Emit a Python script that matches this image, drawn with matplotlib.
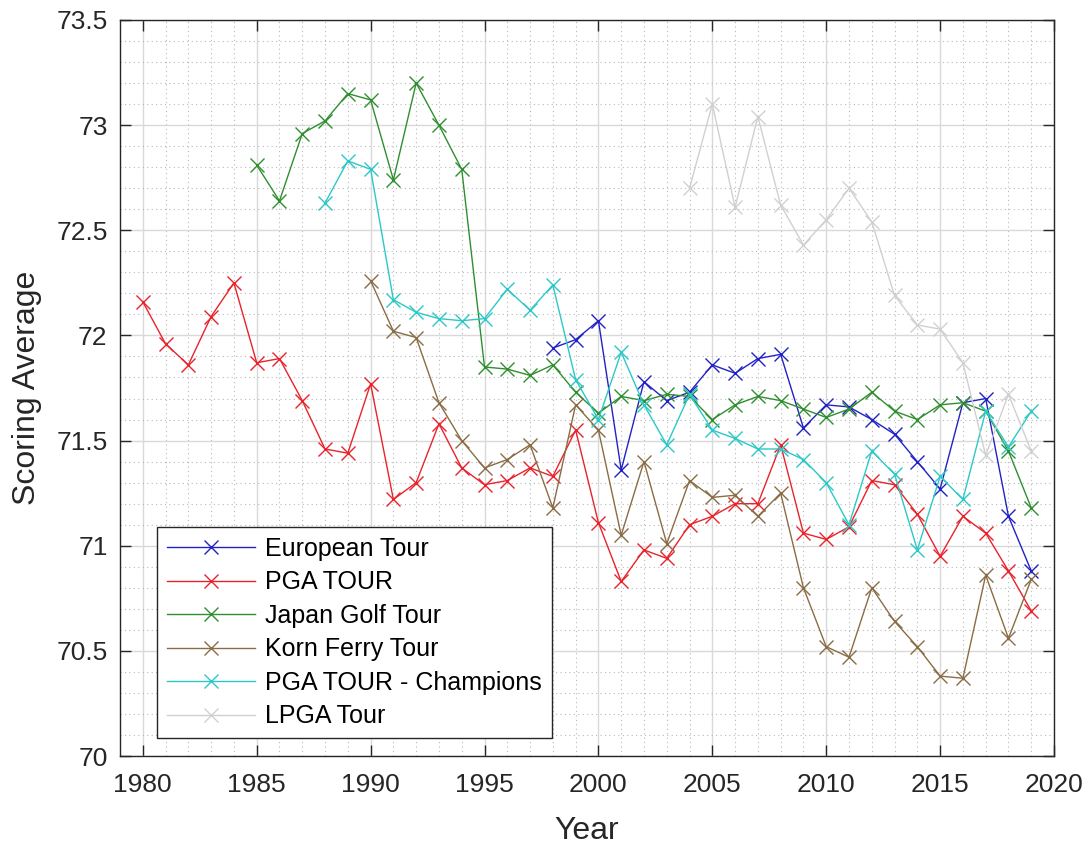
import numpy as np
import matplotlib
matplotlib.use('Agg')
import matplotlib.pyplot as plt
from matplotlib.ticker import MultipleLocator

plt.rcParams['font.family'] = ['Liberation Sans', 'DejaVu Sans']

# %% Datos (promedio de golpes por año)
years_euro = list(range(1998, 2020))
euro = [71.94, 71.98, 72.07, 71.36, 71.78, 71.69, 71.73, 71.86, 71.82, 71.89, 71.91,
        71.56, 71.67, 71.66, 71.60, 71.53, 71.40, 71.27, 71.68, 71.70, 71.14, 70.88]

years_pga = list(range(1980, 2020))
pga = [72.16, 71.96, 71.86, 72.09, 72.25, 71.87, 71.89, 71.69, 71.46, 71.44,
       71.77, 71.22, 71.30, 71.58, 71.37, 71.29, 71.31, 71.37, 71.33, 71.55,
       71.11, 70.83, 70.98, 70.94, 71.10, 71.14, 71.20, 71.20, 71.48, 71.06,
       71.03, 71.09, 71.31, 71.29, 71.15, 70.95, 71.14, 71.06, 70.88, 70.69]

years_japan = list(range(1985, 2020))
japan = [72.81, 72.64, 72.96, 73.02, 73.15, 73.12, 72.74, 73.20, 73.00, 72.79,
         71.85, 71.84, 71.81, 71.86, 71.73, 71.63, 71.71, 71.69, 71.72, 71.71,
         71.60, 71.67, 71.71, 71.69, 71.65, 71.61, 71.65, 71.73, 71.64, 71.60,
         71.67, 71.68, 71.64, 71.45, 71.18]

years_korn = list(range(1990, 2020))
korn = [72.26, 72.02, 71.99, 71.68, 71.50, 71.37, 71.41, 71.48, 71.18, 71.67,
        71.55, 71.05, 71.40, 71.01, 71.31, 71.23, 71.24, 71.14, 71.25, 70.80,
        70.52, 70.47, 70.80, 70.64, 70.52, 70.38, 70.37, 70.86, 70.56, 70.84]

years_champ = list(range(1988, 2020))
champ = [72.63, 72.83, 72.79, 72.17, 72.11, 72.08, 72.07, 72.08, 72.22, 72.12,
         72.24, 71.79, 71.60, 71.92, 71.67, 71.48, 71.72, 71.55, 71.51, 71.46,
         71.46, 71.41, 71.30, 71.10, 71.45, 71.34, 70.98, 71.33, 71.22, 71.64,
         71.47, 71.64]

years_lpga = list(range(2004, 2020))
lpga = [72.70, 73.10, 72.61, 73.04, 72.62, 72.43, 72.55, 72.70, 72.54, 72.19,
        72.05, 72.03, 71.87, 71.43, 71.72, 71.45]

series = [
    (years_euro, euro, 'European Tour', '#2222c4'),
    (years_pga, pga, 'PGA TOUR', '#e8232b'),
    (years_japan, japan, 'Japan Golf Tour', '#2f8f2f'),
    (years_korn, korn, 'Korn Ferry Tour', '#8a6c45'),
    (years_champ, champ, 'PGA TOUR - Champions', '#2cc8c8'),
    (years_lpga, lpga, 'LPGA Tour', '#d0d0d0'),
]

# %% Grafica
fig = plt.figure(figsize=(10.9, 8.47), dpi=100)
ax = fig.add_axes([0.1101, 0.1074, 0.8569, 0.869])

for x, y, nombre, color in series:
    ax.plot(x, y, color=color, marker='x', markersize=10, linewidth=1.0,
            markeredgewidth=1.0, label=nombre)

ax.set_xlim(1979, 2020)
ax.set_ylim(70, 73.5)
ax.xaxis.set_major_locator(MultipleLocator(5))
ax.xaxis.set_minor_locator(MultipleLocator(1))
ax.yaxis.set_major_locator(MultipleLocator(0.5))
ax.yaxis.set_minor_locator(MultipleLocator(0.1))
ax.set_yticks(np.arange(70, 73.51, 0.5))
ax.set_yticklabels(['70', '70.5', '71', '71.5', '72', '72.5', '73', '73.5'])

ax.grid(True, which='major', color='#d9d9d9', linewidth=1.0, linestyle='-')
ax.grid(True, which='minor', color='#b8b8b8', linewidth=0.8, linestyle=(0, (1, 3)))
ax.set_axisbelow(True)

ax.tick_params(which='both', direction='in', top=True, right=True,
               colors='#262626', labelsize=19)
ax.tick_params(which='major', length=8, width=1.0)
ax.tick_params(which='minor', length=0)
ax.tick_params(axis='x', pad=12)
ax.tick_params(axis='y', pad=9)
for s in ax.spines.values():
    s.set_color('#262626')
    s.set_linewidth(1.0)

ax.set_xlabel('Year', fontsize=23, color='#262626', labelpad=14)
ax.set_ylabel('Scoring Average', fontsize=23, color='#262626', labelpad=10)

leg = ax.legend(loc='lower left', bbox_to_anchor=(0.040, 0.024), borderaxespad=0,
                fontsize=18, handlelength=3.5, labelspacing=0.38, handletextpad=0.4,
                borderpad=0.4, fancybox=False, framealpha=1)
leg.get_frame().set_edgecolor('#262626')
leg.get_frame().set_linewidth(1.0)

fig.savefig('out.png', dpi=100)
